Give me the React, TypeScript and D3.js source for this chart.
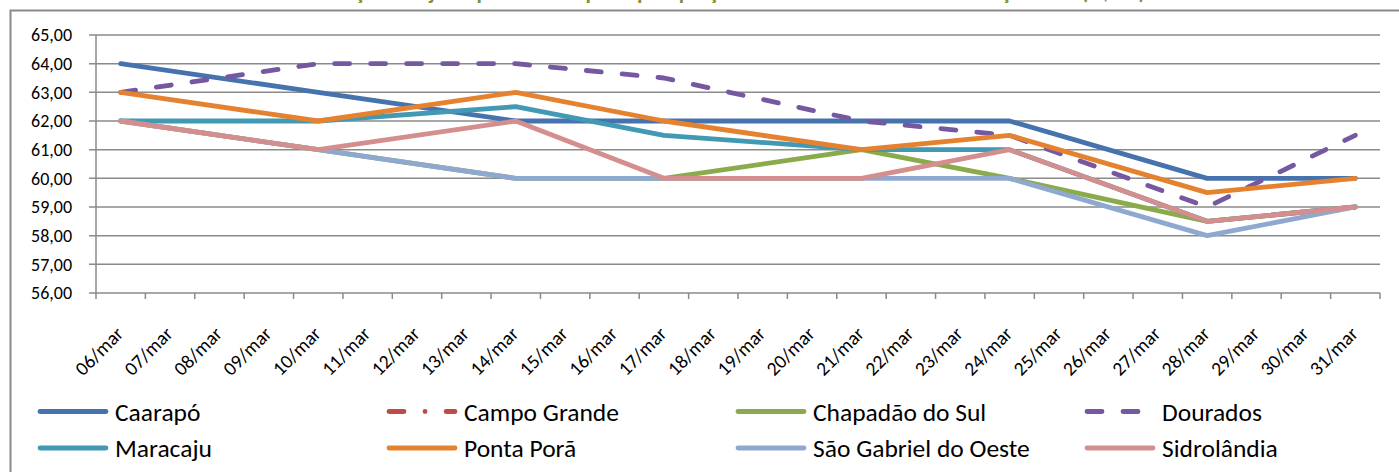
import React from "react";
import * as d3 from "d3";

const dates = [
  "06/mar", "07/mar", "08/mar", "09/mar", "10/mar", "11/mar", "12/mar", "13/mar",
  "14/mar", "15/mar", "16/mar", "17/mar", "18/mar", "19/mar", "20/mar", "21/mar",
  "22/mar", "23/mar", "24/mar", "25/mar", "26/mar", "27/mar", "28/mar", "29/mar",
  "30/mar", "31/mar",
];
const yTicks = [56, 57, 58, 59, 60, 61, 62, 63, 64, 65];

const _ = null;
const caarapo = [64, _, _, _, 63, _, _, _, 62, _, _, 62, _, _, _, 62, _, _, 62, _, _, _, 60, _, _, 60];
const campoGrande = [_, _, _, _, _, _, _, _, _, _, _, _, _, _, _, _, _, _, _, _, _, _, _, _, _, _];
const chapadao = [62, _, _, _, 61, _, _, _, 60, _, _, 60, _, _, _, 61, _, _, 60, _, _, _, 58.5, _, _, 59];
const dourados = [63, _, _, _, 64, _, _, _, 64, _, _, 63.5, _, _, _, 62, _, _, 61.5, _, _, _, 59, _, _, 61.5];
const maracaju = [62, _, _, _, 62, _, _, _, 62.5, _, _, 61.5, _, _, _, 61, _, _, 61, _, _, _, 58.5, _, _, 59];
const pontaPora = [63, _, _, _, 62, _, _, _, 63, _, _, 62, _, _, _, 61, _, _, 61.5, _, _, _, 59.5, _, _, 60];
const saoGabriel = [62, _, _, _, 61, _, _, _, 60, _, _, 60, _, _, _, 60, _, _, 60, _, _, _, 58, _, _, 59];
const sidrolandia = [62, _, _, _, 61, _, _, _, 62, _, _, 60, _, _, _, 60, _, _, 61, _, _, _, 58.5, _, _, 59];

const seriesNames = [
  "Caarapó", "Campo Grande", "Chapadão do Sul", "Dourados",
  "Maracaju", "Ponta Porã", "São Gabriel do Oeste", "Sidrolândia",
];
const seriesValues = [caarapo, campoGrande, chapadao, dourados, maracaju, pontaPora, saoGabriel, sidrolandia];
const seriesColors = ["#4672AE", "#BE4B48", "#8BAA4C", "#7558A0", "#4299B3", "#E5822F", "#8FA8D0", "#D38E8D"];
const seriesDash = ["", "15 21 0.1 21", "", "15 21", "", "", "", ""];

const title = "Preço da soja disponível nas principais praças de Mato Grosso do Sul - março/2015 (R$/sc)";

const W = 1399;
const H = 472;
const FONT = "Carlito, Calibri, Lato, 'Open Sans', sans-serif";

export default function App() {
  const x = d3.scaleBand<string>().domain(dates).range([96, 1380]);
  const y = d3.scaleLinear().domain([56, 65]).range([293, 35]);
  const cx = (d: string) => (x(d) as number) + x.bandwidth() / 2;
  const fmt = (v: number) => d3.format(".2f")(v).replace(".", ",");

  const line = d3
    .line<{ d: string; v: number }>()
    .x((p) => cx(p.d))
    .y((p) => y(p.v));

  const gray = "#8a8a8a";

  return (
    <svg
      width={W}
      height={H}
      style={{ position: "absolute", left: 0, top: 0, background: "#fff" }}
      fontFamily={FONT}
    >
      <rect x={0} y={0} width={W} height={H} fill="#fff" />
      {/* title: cut off at the top edge, as in the source picture */}
      <text x={735} y={-1} textAnchor="middle" fontSize={22} fontWeight="bold" fill="#77933C">
        {title}
      </text>
      {/* chart border */}
      <rect x={10.5} y={10.5} width={W + 20} height={H + 20} fill="none" stroke={gray} strokeWidth={2} />

      {/* gridlines + y ticks */}
      {yTicks.map((t) => (
        <g key={t}>
          <line x1={89} x2={1380} y1={y(t)} y2={y(t)} stroke={gray} strokeWidth={1.5} />
          <text x={72} y={y(t)} dy="0.36em" textAnchor="end" fontSize={18} fill="#000">
            {fmt(t)}
          </text>
        </g>
      ))}
      {/* y axis */}
      <line x1={96} x2={96} y1={y(65)} y2={y(56)} stroke={gray} strokeWidth={1.5} />
      {/* x ticks */}
      {dates.map((d) => (
        <line key={"t" + d} x1={x(d) as number} x2={x(d) as number} y1={y(56)} y2={y(56) + 6} stroke={gray} strokeWidth={1.5} />
      ))}
      <line x1={1380} x2={1380} y1={y(56)} y2={y(56) + 6} stroke={gray} strokeWidth={1.5} />
      {/* x labels */}
      {dates.map((d) => (
        <text
          key={"l" + d}
          transform={`translate(${cx(d) - 1},${330}) rotate(-45)`}
          textAnchor="end"
          dominantBaseline="central"
          fontSize={19.5}
          fill="#000"
        >
          {d}
        </text>
      ))}

      {/* series */}
      {seriesValues.map((vals, i) => {
        const pts = dates
          .map((d, j) => ({ d, v: vals[j] as number | null }))
          .filter((p) => p.v !== null) as { d: string; v: number }[];
        if (pts.length === 0) return null;
        return (
          <path
            key={seriesNames[i]}
            d={line(pts) || ""}
            fill="none"
            stroke={seriesColors[i]}
            strokeWidth={4.8}
            strokeLinecap="round"
            strokeLinejoin="round"
            strokeDasharray={seriesDash[i] || undefined}
          />
        );
      })}

      {/* legend */}
      {seriesNames.map((name, i) => {
        const col = i % 4;
        const row = Math.floor(i / 4);
        const lx = 38 + col * 349;
        const ly = 411.5 + row * 36.5;
        return (
          <g key={"lg" + name}>
            <line
              x1={lx + 2}
              x2={lx + 68}
              y1={ly}
              y2={ly}
              stroke={seriesColors[i]}
              strokeWidth={4.8}
              strokeLinecap="round"
              strokeDasharray={seriesDash[i] || undefined}
            />
            <text x={lx + 77} y={ly} dy="0.36em" fontSize={25.5} fill="#000">
              {name}
            </text>
          </g>
        );
      })}
    </svg>
  );
}
